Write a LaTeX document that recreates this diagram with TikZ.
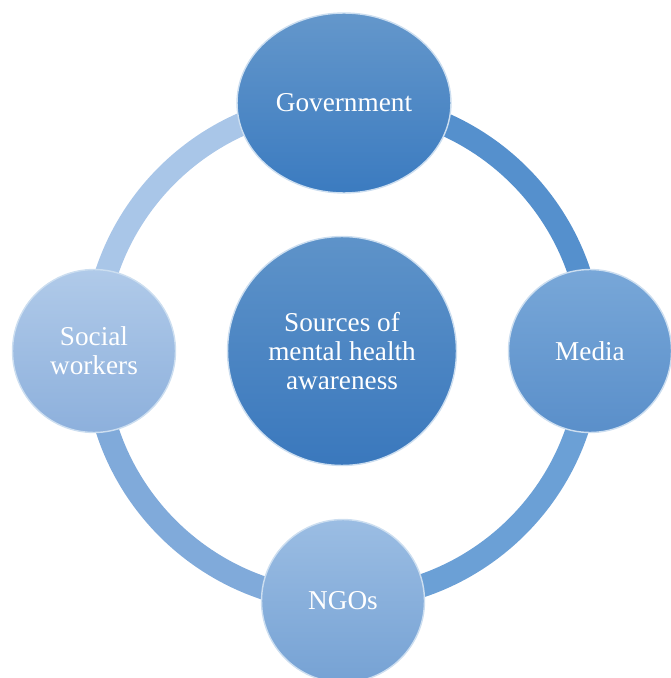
\documentclass[tikz,border=0pt]{standalone}
\usepackage{fontspec}
\setmainfont{Liberation Serif}
\usetikzlibrary{shapes.geometric,backgrounds}

\definecolor{govtop}{HTML}{6497CB}
\definecolor{govbot}{HTML}{3B7BC0}
\definecolor{medtop}{HTML}{78A7D8}
\definecolor{medbot}{HTML}{5A8FCA}
\definecolor{soctop}{HTML}{B0CAE9}
\definecolor{socbot}{HTML}{8DB0DC}
\definecolor{ngotop}{HTML}{9BBDE3}
\definecolor{ngobot}{HTML}{76A2D4}
\definecolor{midtop}{HTML}{5E93C9}
\definecolor{midbot}{HTML}{3A78BD}
\definecolor{arcone}{HTML}{5590CD}
\definecolor{arctwo}{HTML}{6BA0D6}
\definecolor{arcthree}{HTML}{80AADA}
\definecolor{arcfour}{HTML}{A9C6E8}

\tikzset{
  bubble/.style={circle, minimum size=3.26cm, inner sep=0pt, align=center,
    text=white, font=\fontsize{15.5}{16.5}\selectfont,
    draw=white!70!arcone, line width=0.8pt},
  band/.style={line width=0.46cm},
}

\begin{document}
\begin{tikzpicture}[x=0.02cm, y=-0.02cm]
   \useasboundingbox (0,0) rectangle (670,678);
   % centre
   \node[bubble, minimum size=4.58cm, top color=midtop, bottom color=midbot]
      (sources) at (342,351) {Sources of\\mental health\\awareness};
   % outer bubbles
   \node[bubble, ellipse, minimum width=4.28cm, minimum height=3.6cm,
      top color=govtop, bottom color=govbot] (gov) at (344,103) {Government};
   \node[bubble, top color=medtop, bottom color=medbot] (media) at (590,351) {Media};
   \node[bubble, top color=ngotop, bottom color=ngobot] (ngos) at (343,601) {NGOs};
   \node[bubble, top color=soctop, bottom color=socbot] (social) at (94,351) {Social\\workers};
   % cycle arcs behind the bubbles
   \begin{scope}[on background layer]
      \draw[band, arcone] (gov.center) arc[start angle=90, end angle=0, radius=4.96cm];
      \draw[band, arctwo] (media.center) arc[start angle=0, end angle=-90, radius=4.96cm];
      \draw[band, arcthree] (ngos.center) arc[start angle=270, end angle=180, radius=4.96cm];
      \draw[band, arcfour] (social.center) arc[start angle=180, end angle=90, radius=4.96cm];
   \end{scope}
\end{tikzpicture}
\end{document}
